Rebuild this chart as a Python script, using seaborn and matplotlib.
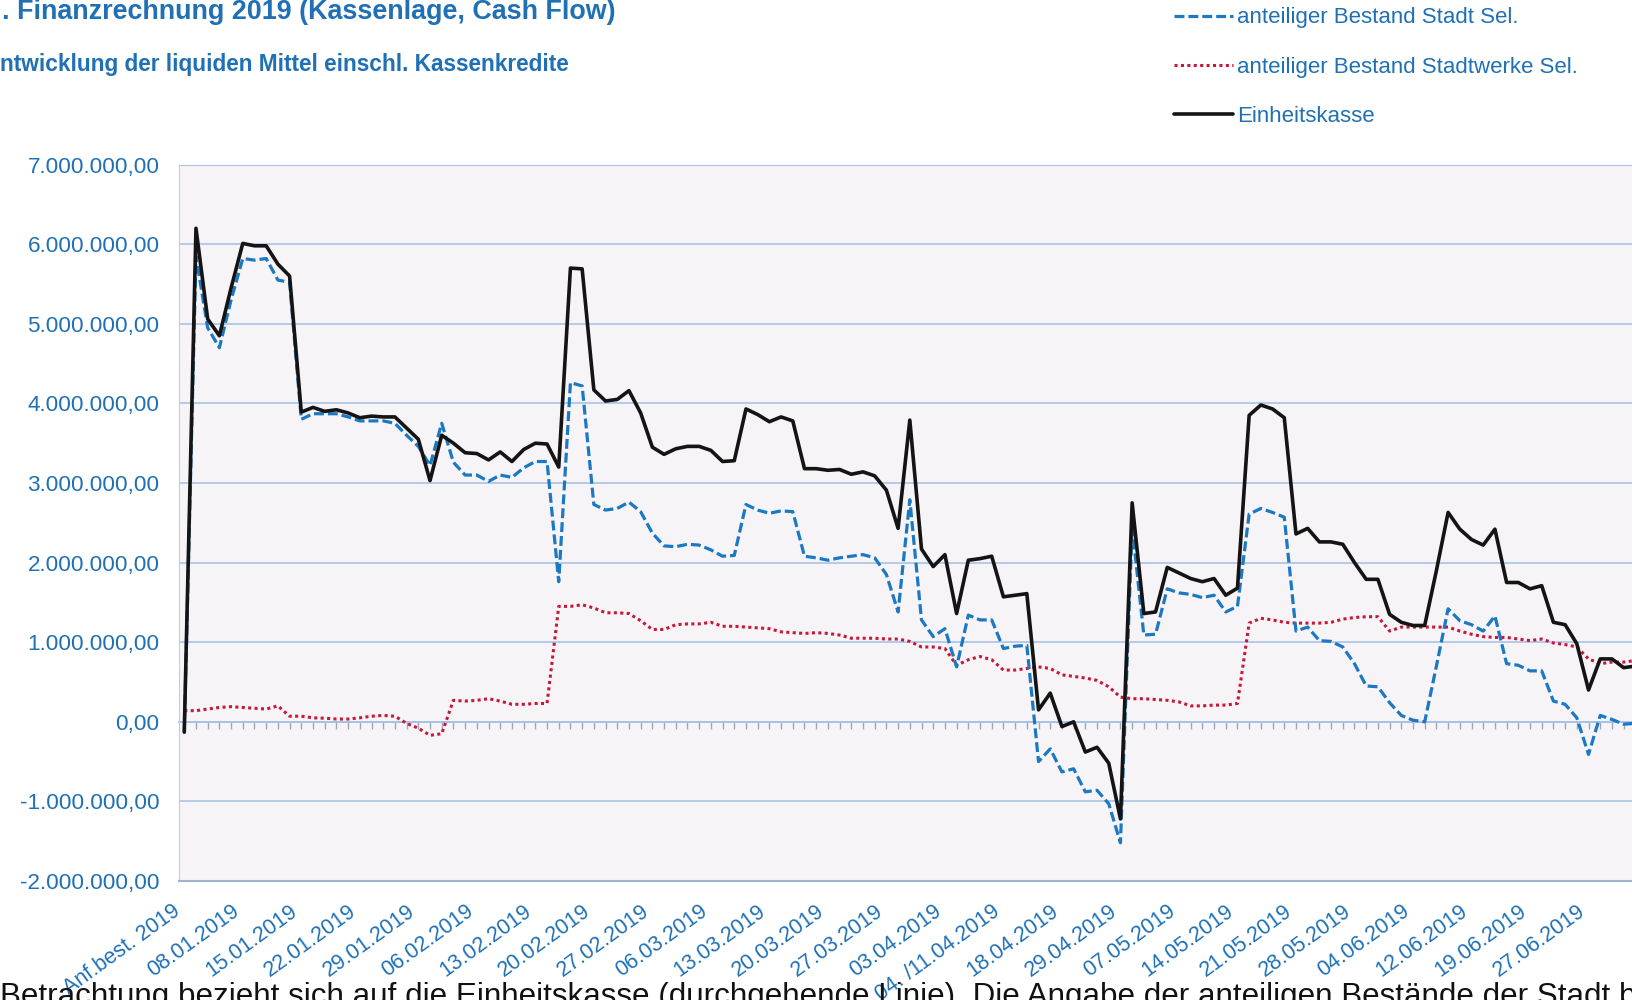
import matplotlib
matplotlib.use('Agg')
import matplotlib.pyplot as plt
from matplotlib.lines import Line2D
from matplotlib.ticker import FuncFormatter, MultipleLocator
from matplotlib.transforms import ScaledTranslation
import numpy as np
import pandas as pd
import seaborn as sns

tick_labels = ['Anf.best. 2019', '08.01.2019', '15.01.2019', '22.01.2019', '29.01.2019',
               '06.02.2019', '13.02.2019', '20.02.2019', '27.02.2019', '06.03.2019',
               '13.03.2019', '20.03.2019', '27.03.2019', '03.04.2019', '04. /11.04.2019',
               '18.04.2019', '29.04.2019', '07.05.2019', '14.05.2019', '21.05.2019',
               '28.05.2019', '04.06.2019', '12.06.2019', '19.06.2019', '27.06.2019']

stadt_mio = [
    -0.13, 5.85, 4.95, 4.70, 5.30, 5.82, 5.80, 5.82, 5.55, 5.52,
    3.80, 3.87, 3.87, 3.87, 3.83, 3.78, 3.78, 3.78, 3.75, 3.60,
    3.46, 3.22, 3.75, 3.26, 3.10, 3.10, 3.02, 3.10, 3.07, 3.19,
    3.27, 3.27, 1.76, 4.26, 4.22, 2.73, 2.66, 2.68, 2.76, 2.64,
    2.37, 2.21, 2.20, 2.23, 2.22, 2.16, 2.08, 2.09, 2.73, 2.66,
    2.62, 2.65, 2.64, 2.08, 2.06, 2.03, 2.06, 2.08, 2.10, 2.06,
    1.85, 1.38, 2.79, 1.28, 1.07, 1.17, 0.69, 1.34, 1.28, 1.28,
    0.92, 0.95, 0.96, -0.50, -0.34, -0.63, -0.59, -0.88, -0.86, -1.03,
    -1.52, 2.45, 1.09, 1.10, 1.67, 1.62, 1.60, 1.56, 1.59, 1.38,
    1.45, 2.61, 2.68, 2.63, 2.57, 1.14, 1.19, 1.02, 1.01, 0.94,
    0.73, 0.45, 0.44, 0.24, 0.08, 0.02, 0.00, 0.70, 1.42, 1.27,
    1.22, 1.14, 1.33, 0.73, 0.71, 0.64, 0.64, 0.26, 0.22, 0.05,
    -0.41, 0.08, 0.03, -0.03, -0.02]

stadtwerke_mio = [
    0.14, 0.14, 0.16, 0.18, 0.19, 0.18, 0.17, 0.16, 0.20, 0.07,
    0.07, 0.05, 0.045, 0.035, 0.035, 0.05, 0.07, 0.08, 0.07, -0.02,
    -0.08, -0.17, -0.15, 0.27, 0.26, 0.27, 0.29, 0.26, 0.22, 0.22,
    0.23, 0.23, 1.45, 1.45, 1.47, 1.43, 1.37, 1.37, 1.36, 1.27,
    1.16, 1.16, 1.22, 1.23, 1.23, 1.25, 1.20, 1.20, 1.19, 1.18,
    1.17, 1.13, 1.12, 1.11, 1.12, 1.11, 1.09, 1.05, 1.05, 1.05,
    1.04, 1.04, 1.01, 0.94, 0.94, 0.92, 0.71, 0.78, 0.82, 0.78,
    0.65, 0.65, 0.67, 0.69, 0.67, 0.59, 0.57, 0.55, 0.52, 0.44,
    0.31, 0.29, 0.29, 0.28, 0.27, 0.25, 0.20, 0.20, 0.21, 0.21,
    0.23, 1.24, 1.30, 1.28, 1.25, 1.24, 1.24, 1.24, 1.25, 1.29,
    1.31, 1.32, 1.32, 1.14, 1.19, 1.19, 1.19, 1.19, 1.19, 1.14,
    1.10, 1.07, 1.06, 1.06, 1.04, 1.02, 1.04, 0.99, 0.97, 0.94,
    0.79, 0.73, 0.75, 0.75, 0.77]

einheitskasse_mio = [
    -0.13, 6.20, 5.06, 4.85, 5.45, 6.01, 5.98, 5.98, 5.75, 5.60,
    3.89, 3.95, 3.90, 3.92, 3.88, 3.82, 3.84, 3.83, 3.83, 3.69,
    3.55, 3.03, 3.60, 3.50, 3.38, 3.37, 3.29, 3.39, 3.27, 3.42,
    3.50, 3.49, 3.20, 5.70, 5.69, 4.17, 4.03, 4.05, 4.16, 3.88,
    3.45, 3.36, 3.43, 3.46, 3.46, 3.41, 3.27, 3.28, 3.93, 3.86,
    3.77, 3.83, 3.78, 3.18, 3.18, 3.16, 3.17, 3.11, 3.14, 3.09,
    2.91, 2.43, 3.79, 2.17, 1.95, 2.10, 1.36, 2.03, 2.05, 2.08,
    1.57, 1.59, 1.61, 0.15, 0.36, -0.06, 0.00, -0.38, -0.32, -0.52,
    -1.22, 2.75, 1.36, 1.38, 1.94, 1.87, 1.80, 1.76, 1.80, 1.59,
    1.68, 3.85, 3.98, 3.93, 3.82, 2.36, 2.43, 2.26, 2.26, 2.23,
    2.00, 1.79, 1.79, 1.35, 1.25, 1.21, 1.21, 1.90, 2.63, 2.42,
    2.29, 2.22, 2.42, 1.75, 1.75, 1.67, 1.71, 1.25, 1.22, 0.98,
    0.40, 0.79, 0.79, 0.68, 0.70]

series_names = ['anteiliger Bestand Stadt Sel.', 'anteiliger Bestand Stadtwerke Sel.', 'Einheitskasse']

BLUE = '#1b78c2'
RED = '#c8173a'
BLACK = '#141414'
TEXT_BLUE = '#1f70b5'

sns.set_style('white')
plt.rcParams['font.family'] = ['Liberation Sans', 'DejaVu Sans']

idx = np.arange(len(einheitskasse_mio))
df = pd.DataFrame({'tag': idx,
                   'stadt': np.array(stadt_mio) * 1e6,
                   'stadtwerke': np.array(stadtwerke_mio) * 1e6,
                   'einheit': np.array(einheitskasse_mio) * 1e6})

fig = plt.figure(figsize=(16.33, 10), dpi=100)
ax = fig.add_axes([179 / 1633, 0.119, 1 - 179 / 1633, 0.7164])
ax.set_facecolor('#f6f4f6')

sns.lineplot(data=df, x='tag', y='stadtwerke', ax=ax, color=RED, linewidth=2.2, zorder=3)
ax.lines[-1].set_dashes((1, 1.1))
sns.lineplot(data=df, x='tag', y='stadt', ax=ax, color=BLUE, linewidth=2.3, zorder=4)
ax.lines[-1].set_dashes((3.1, 1.25))
sns.lineplot(data=df, x='tag', y='einheit', ax=ax, color=BLACK, linewidth=2.6, zorder=5)

ax.set_xlim(-0.45, 123.8)
ax.set_ylim(-2e6, 7e6)
ax.yaxis.set_major_locator(MultipleLocator(1e6))


def de_fmt(v, pos):
    s = f'{v:,.2f}'
    return s.replace(',', 'X').replace('.', ',').replace('X', '.')


ax.yaxis.set_major_formatter(FuncFormatter(de_fmt))
ax.set_xticks(np.arange(0, len(tick_labels) * 5, 5))
ax.set_xticklabels(tick_labels, rotation=36, ha='right', va='top', rotation_mode='anchor')
ax.tick_params(axis='x', length=0, pad=14, labelsize=15.5, labelcolor=TEXT_BLUE)
ax.tick_params(axis='y', length=0, pad=14, labelsize=16.2, labelcolor=TEXT_BLUE)
shift = ScaledTranslation(-12 / 100, 0, fig.dpi_scale_trans)
for lab in ax.get_xticklabels():
    lab.set_transform(lab.get_transform() + shift)
ax.set_xlabel('')
ax.set_ylabel('')

ax.grid(axis='y', color='#aac3e6', linewidth=1.2)
ax.grid(axis='x', visible=False)
ax.set_axisbelow(True)
ax.spines['right'].set_visible(False)
ax.spines['top'].set_color('#aac3e6')
ax.spines['left'].set_color('#c5cdd8')
ax.spines['bottom'].set_color('#9fb3cf')
ax.spines['bottom'].set_linewidth(1.5)

# Rubrikenachse bei 0 mit kleinen Teilstrichen je Tag
sec = ax.secondary_xaxis(2 / 9)
sec.set_xticks(idx)
sec.tick_params(axis='x', direction='out', length=5, width=1, color='#9aa8ba', labelbottom=False)
sec.spines['bottom'].set_color('#9fb8d8')
sec.spines['bottom'].set_linewidth(1.3)

handles = [Line2D([], [], color=BLUE, linewidth=2.3, dashes=(3.1, 1.25)),
           Line2D([], [], color=RED, linewidth=2.2, dashes=(1, 1.1)),
           Line2D([], [], color=BLACK, linewidth=2.6)]
fig.legend(handles, series_names, loc='upper left', bbox_to_anchor=(1174 / 1633, 0.9925),
           frameon=False, borderpad=0, borderaxespad=0, handlelength=2.64, handletextpad=0.2,
           labelspacing=1.27, fontsize=16, labelcolor=TEXT_BLUE)

fig.text(0.001, 0.981, '. Finanzrechnung 2019 (Kassenlage, Cash Flow)', fontsize=19.4,
         fontweight='bold', color=TEXT_BLUE, ha='left', va='baseline')
fig.text(0.0, 0.929, 'ntwicklung der liquiden Mittel einschl. Kassenkredite', fontsize=16.3,
         fontweight='bold', color=TEXT_BLUE, ha='left', va='baseline')
fig.text(0.0, -0.0054, 'Betrachtung bezieht sich auf die Einheitskasse (durchgehende Linie). '
         'Die Angabe der anteiligen Bestände der Stadt b', fontsize=22.6, color='#111111',
         ha='left', va='baseline')

fig.savefig('out.png', dpi=100, facecolor='white')
